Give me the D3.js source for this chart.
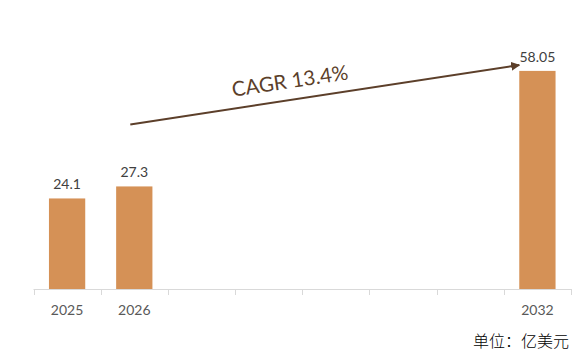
<!DOCTYPE html>
<html>
<head>
<meta charset="utf-8">
<script src="https://cdn.jsdelivr.net/npm/d3@7"></script>
<style>
  html, body { margin: 0; padding: 0; background: #fff; }
  svg { display: block; }
</style>
</head>
<body>
<div id="chart"></div>
<script>
const years = ["2025", "2026", "2027", "2028", "2029", "2030", "2031", "2032"];
const values = [24.1, 27.3, null, null, null, null, null, 58.05];
const tickLabels = ["2025", "2026", "", "", "", "", "", "2032"];
const cagrText = "CAGR 13.4%";
const unitText = "单位：亿美元";

const WIDTH = 581;
const HEIGHT = 360;
const BAR_COLOR = "#D59156";
const ARROW_COLOR = "#5C3F2A";
const FONT = "Lato, 'Open Sans', 'Liberation Sans', sans-serif";

const svg = d3.select("#chart").append("svg")
  .attr("width", WIDTH)
  .attr("height", HEIGHT);

const x = d3.scaleBand().domain(years).range([33.5, 571]).paddingInner(0.46).paddingOuter(0.23);
const y = d3.scaleLinear().domain([0, 70]).range([289, 26]);

// axis line + ticks at category boundaries
const axisG = svg.append("g");
axisG.append("line")
  .attr("x1", 33.5).attr("x2", 571)
  .attr("y1", 289.5).attr("y2", 289.5)
  .attr("stroke", "#D9D9D9").attr("stroke-width", 1);

const step = (571 - 33.5) / years.length;
d3.range(years.length + 1).forEach(i => {
  const tx = Math.round(33.5 + i * step) + 0.5;
  axisG.append("line")
    .attr("x1", tx).attr("x2", tx)
    .attr("y1", 289).attr("y2", 295)
    .attr("stroke", "#D9D9D9").attr("stroke-width", 1);
});

axisG.selectAll("text.tick")
  .data(years)
  .enter()
  .append("text")
  .attr("class", "tick")
  .attr("x", d => x(d) + x.bandwidth() / 2)
  .attr("y", 315)
  .attr("text-anchor", "middle")
  .attr("font-family", FONT)
  .attr("font-size", 14)
  .attr("fill", "#595959")
  .text((d, i) => tickLabels[i]);

const barData = years.map((d, i) => ({ year: d, value: values[i] })).filter(d => d.value != null);

svg.selectAll("rect.bar")
  .data(barData)
  .enter()
  .append("rect")
  .attr("class", "bar")
  .attr("x", d => x(d.year))
  .attr("width", x.bandwidth())
  .attr("y", d => y(d.value))
  .attr("height", d => y(0) - y(d.value))
  .attr("fill", BAR_COLOR);

svg.selectAll("text.val")
  .data(barData)
  .enter()
  .append("text")
  .attr("class", "val")
  .attr("x", d => x(d.year) + x.bandwidth() / 2)
  .attr("y", d => y(d.value) - 9)
  .attr("text-anchor", "middle")
  .attr("font-family", FONT)
  .attr("font-size", 14)
  .attr("fill", "#404040")
  .text(d => d.value);

// CAGR arrow
svg.append("defs").append("marker")
  .attr("id", "arrowhead")
  .attr("viewBox", "0 0 10 10")
  .attr("refX", 9).attr("refY", 5)
  .attr("markerWidth", 4.5).attr("markerHeight", 4.5)
  .attr("orient", "auto")
  .append("path")
  .attr("d", "M0,0 L10,5 L0,10 z")
  .attr("fill", ARROW_COLOR);

const ax1 = x("2026") + x.bandwidth() / 2 - 4;
const ay1 = y(43.8);
const ax2 = x("2032");
const ay2 = y(59.6);

svg.append("line")
  .attr("x1", ax1).attr("y1", ay1)
  .attr("x2", ax2).attr("y2", ay2)
  .attr("stroke", ARROW_COLOR)
  .attr("stroke-width", 2)
  .attr("marker-end", "url(#arrowhead)");

const angle = Math.atan2(ay2 - ay1, ax2 - ax1) * 180 / Math.PI;
svg.append("text")
  .attr("transform", `translate(291,88) rotate(${angle})`)
  .attr("text-anchor", "middle")
  .attr("font-family", FONT)
  .attr("font-size", 20.5)
  .attr("fill", ARROW_COLOR)
  .text(cagrText);

svg.append("text")
  .attr("x", 569)
  .attr("y", 347)
  .attr("text-anchor", "end")
  .attr("font-family", "'Noto Sans CJK SC', sans-serif")
  .attr("font-size", 16)
  .attr("font-weight", 300)
  .attr("fill", "#000")
  .text(unitText);
</script>
</body>
</html>
